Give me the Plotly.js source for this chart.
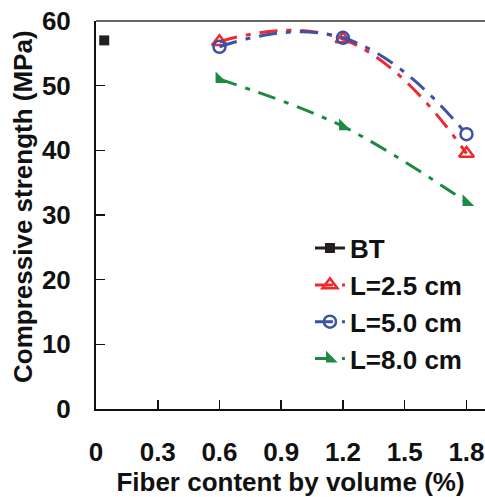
<!DOCTYPE html>
<html><head><meta charset="utf-8">
<script src="https://cdn.plot.ly/plotly-3.0.1.min.js"></script>
<style>html,body{margin:0;padding:0;background:#fff}#chart{width:485px;height:497px}</style>
</head><body><div id="chart"></div>
<script>
var xBT = [0.04];
var yBT = [57.0];
var xFiber = [0.6, 1.2, 1.8];
var yL25 = [56.8, 57.2, 39.5];
var yL50 = [56.0, 57.4, 42.5];
var yL80 = [51.0, 43.7, 32.0];
var xTicks = [0, 0.3, 0.6, 0.9, 1.2, 1.5, 1.8];
var xTickText = ['0', '0.3', '0.6', '0.9', '1.2', '1.5', '1.8'];
var yTicks = [0, 10, 20, 30, 40, 50, 60];
var yTitle = 'Compressive strength (MPa)';
var xTitle = 'Fiber content by volume (%)';

var dash = '18px,9px,5px,9px';
var F = 'Liberation Sans, Arial, sans-serif';
var traces = [
  {x: xBT, y: yBT, name: 'BT', mode: 'lines+markers', line: {color: '#231f20', width: 3},
   marker: {symbol: 'square', size: 10, color: '#231f20'}},
  {x: xFiber, y: yL25, name: 'L=2.5 cm', mode: 'lines+markers',
   line: {color: '#ed2a2f', width: 3, dash: dash, shape: 'spline', smoothing: 1.3},
   marker: {symbol: 'triangle-up-open', size: 13, color: '#ed2a2f', line: {width: 2.5}}},
  {x: xFiber, y: yL50, name: 'L=5.0 cm', mode: 'lines+markers',
   line: {color: '#3a53a4', width: 3, dash: dash, shape: 'spline', smoothing: 1.3},
   marker: {symbol: 'circle-open', size: 12, color: '#3a53a4', line: {width: 2.5}}},
  {x: xFiber, y: yL80, name: 'L=8.0 cm', mode: 'lines+markers',
   line: {color: '#1d8a44', width: 3, dash: dash, shape: 'spline', smoothing: 1.0},
   marker: {symbol: 'triangle-sw', size: 13, color: '#1d8a44'}}
];
var layout = {
  width: 485, height: 497,
  margin: {l: 96, r: 0, t: 21, b: 88},
  paper_bgcolor: '#fff', plot_bgcolor: '#fff',
  font: {family: F, color: '#111', size: 26, weight: 'bold'},
  showlegend: true,
  legend: {x: 0.55, xanchor: 'left', y: 0.475, yanchor: 'top', bgcolor: 'rgba(0,0,0,0)',
           font: {family: F, size: 26, weight: 'bold', color: '#111'}, itemwidth: 30},
  xaxis: {range: [0, 1.89], tickvals: xTicks, ticktext: xTickText, ticks: 'inside', ticklen: 9,
          tickcolor: '#111', tickwidth: 1.5, showline: true, linecolor: '#111', linewidth: 2,
          showgrid: false, zeroline: false, ticklabelstandoff: 19,
          tickfont: {family: F, size: 26, weight: 'bold', color: '#111'},
          title: {text: xTitle, font: {family: F, size: 26, weight: 'bold', color: '#111'}, standoff: 8}},
  yaxis: {range: [0, 60], tickvals: yTicks, ticks: 'inside', ticklen: 9,
          tickcolor: '#111', tickwidth: 1.5, showline: true, linecolor: '#111', linewidth: 2,
          showgrid: false, zeroline: false, ticklabelstandoff: 18,
          tickfont: {family: F, size: 26, weight: 'bold', color: '#111'}},
  annotations: [{text: yTitle, xref: 'paper', yref: 'paper', x: -0.188, y: 0.523,
                 xanchor: 'center', yanchor: 'middle', textangle: -90, showarrow: false,
                 font: {family: F, size: 26, weight: 'bold', color: '#111'}}],
  shapes: [{type: 'line', xref: 'paper', yref: 'paper', x0: 0, x1: 1, y0: 1, y1: 1,
            line: {color: '#666', width: 2}}]
};
Plotly.newPlot('chart', traces, layout, {displayModeBar: false, staticPlot: true});
</script></body></html>
